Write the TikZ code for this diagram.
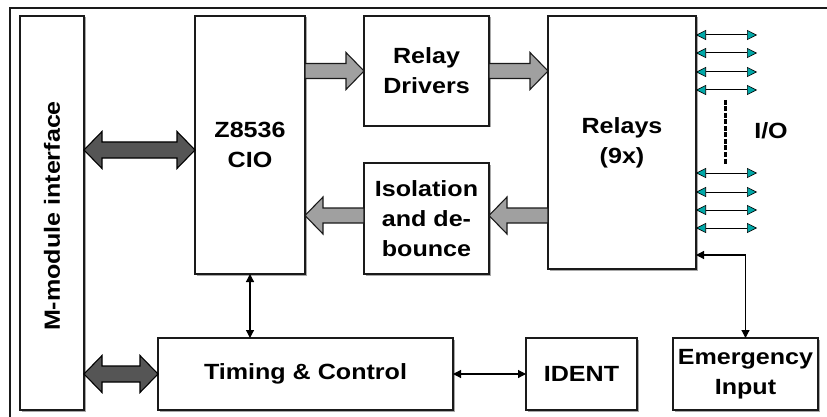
\documentclass[tikz,border=0pt]{standalone}
\usepackage{fontspec}
\setsansfont{Liberation Sans}[FakeStretch=1.14]
\usepackage{tikz}
\usetikzlibrary{arrows.meta,positioning,calc,shadows}
\definecolor{boxline}{HTML}{1A1A1A}
\definecolor{boxshade}{HTML}{A8A8A8}
\definecolor{busgray}{HTML}{A0A0A0}
\definecolor{busdark}{HTML}{555555}
\definecolor{ioteal}{HTML}{00A8A8}

% fat bus arrow, head at the end only
\newcommand{\singlebus}[3]{%
  \draw[#1] let \p1=(#2), \p2=(#3), \n1={sign(\x2-\x1)}, \n2={\x2-\n1*18} in
    ({\x1},{\y1+7.5}) -- ({\n2},{\y1+7.5}) -- ({\n2},{\y1+18.5}) -- ({\x2},{\y1})
    -- ({\n2},{\y1-18.5}) -- ({\n2},{\y1-7.5}) -- ({\x1},{\y1-7.5}) -- cycle;}
% fat bus arrow, heads at both ends
\newcommand{\doublebus}[3]{%
  \draw[#1] let \p1=(#2), \p2=(#3), \n1={sign(\x2-\x1)}, \n2={\x2-\n1*18}, \n3={\x1+\n1*18} in
    ({\x1},{\y1}) -- ({\n3},{\y1-18.5}) -- ({\n3},{\y1-8}) -- ({\n2},{\y1-8})
    -- ({\n2},{\y1-18.5}) -- ({\x2},{\y1}) -- ({\n2},{\y1+18.5}) -- ({\n2},{\y1+8})
    -- ({\n3},{\y1+8}) -- ({\n3},{\y1+18.5}) -- cycle;}

\begin{document}
\begin{tikzpicture}[
  x=1pt, y=-1pt,
  font=\sffamily\bfseries\fontsize{22pt}{30pt}\selectfont,
  modblock/.style={
    draw=boxline,
    fill=white,
    line width=1.4pt,
    inner sep=0pt,
    outer sep=0pt,
    align=center,
    anchor=north west,
    drop shadow={shadow xshift=1.5pt, shadow yshift=-1.5pt, fill=boxshade, opacity=1}
  },
  busgrayarrow/.style={
    draw=boxline,
    fill=busgray,
    line width=1.1pt,
    line join=miter
  },
  busdarkarrow/.style={
    draw=black,
    fill=busdark,
    line width=1.1pt,
    line join=miter
  },
  sigarrow/.style={
    {Triangle[length=8pt,width=8pt]}-{Triangle[length=8pt,width=8pt]},
    line width=1.2pt,
    draw=black
  },
  ioarrow/.style={
    {Triangle[length=10pt,width=10pt,fill=ioteal,line width=0.6pt]}-{Triangle[length=10pt,width=10pt,fill=ioteal,line width=0.6pt]},
    line width=1pt,
    draw=black
  }
]
  \useasboundingbox (0,0) rectangle (827,417);

  % Outer frame (cut at right and bottom)
  \draw[line width=1.6pt, boxline] (827,8) -- (10,8) -- (10,417);

  % --- Blocks ---
  \node[modblock, minimum width=64pt, minimum height=394pt] (mmod) at (20,16) {};
  \node[rotate=90] (mmodlabel) at ([yshift=-3pt]mmod.center) {M-module interface};

  \node[modblock, minimum width=110pt, minimum height=258pt, right=111pt of mmod.north east, anchor=north west] (cio) {Z8536\\CIO};

  \node[modblock, minimum width=125pt, minimum height=110pt, right=59pt of cio.north east, anchor=north west] (drivers) {Relay\\Drivers};

  \node[modblock, minimum width=125pt, minimum height=111pt, below=37pt of drivers.south west, anchor=north west] (isol) {Isolation\\and de-\\bounce};

  \node[modblock, minimum width=148pt, minimum height=253pt, right=59pt of drivers.north east, anchor=north west] (relays) {Relays\\(9x)};

  \node[modblock, minimum width=295pt, minimum height=72pt] (timing) at (158,338) {Timing \& Control};

  \node[modblock, minimum width=111pt, minimum height=72pt, right=73pt of timing.north east, anchor=north west] (ident) {IDENT};

  \node[modblock, minimum width=145pt, minimum height=72pt, right=36pt of ident.north east, anchor=north west] (emerg) {Emergency\\Input};

  \node (iolabel) at (771,131) {I/O};

  % --- Bus arrows ---
  \coordinate (cioport) at ([yshift=-5pt]cio.west);
  \coordinate (mmodtop) at (mmod.east |- cioport);
  \coordinate (mmodlow) at (mmod.east |- timing.west);
  \doublebus{busdarkarrow}{mmodtop}{cioport}
  \doublebus{busdarkarrow}{mmodlow}{timing.west}

  \coordinate (cioout) at (cio.east |- drivers.west);
  \coordinate (relaysin) at (relays.west |- drivers.east);
  \singlebus{busgrayarrow}{cioout}{drivers.west}
  \singlebus{busgrayarrow}{drivers.east}{relaysin}
  \coordinate (isolin) at ([yshift=3pt]isol.east);
  \coordinate (isolout) at ([yshift=3pt]isol.west);
  \coordinate (relaysout) at (relays.west |- isolin);
  \coordinate (cioin) at (cio.east |- isolin);
  \singlebus{busgrayarrow}{relaysout}{isolin}
  \singlebus{busgrayarrow}{isolout}{cioin}

  % --- Signal arrows ---
  \draw[sigarrow] (cio.south) -- (cio.south |- timing.north);
  \draw[sigarrow] (timing.east) -- (ident.west);
  \coordinate (emtap) at ([yshift=14pt]relays.south east);
  \draw[sigarrow] (emtap) -| (emerg.north);

  % --- I/O lines ---
  \foreach \y [count=\i] in {35,53,72,90,173,192,210,228} {
    \coordinate (io\i) at (757,\y);
    \draw[ioarrow] (relays.east |- io\i) -- (io\i);
  }
  \coordinate (iodottop) at (725,100);
  \coordinate (iodotbot) at (725,165);
  \draw[line width=3pt, dash pattern=on 5pt off 1.5pt] (iodottop) -- (iodotbot);

\end{tikzpicture}
\end{document}
